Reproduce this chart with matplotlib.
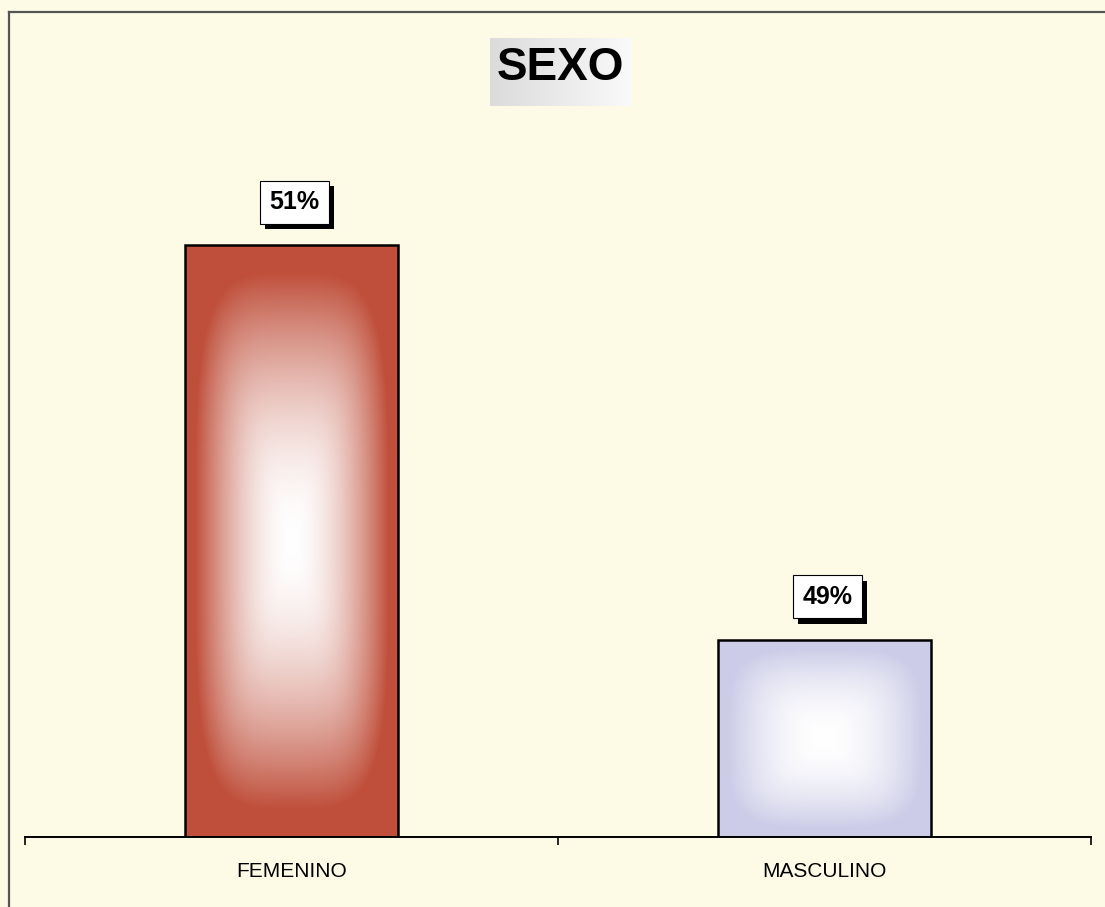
import matplotlib.pyplot as plt
import matplotlib.patheffects as pe
import numpy as np

categories = ['FEMENINO', 'MASCULINO']
values = [51, 49]
labels = ['51%', '49%']
edge_colors = [(0.75, 0.31, 0.23), (0.80, 0.80, 0.91)]

W, H = 1105, 907
fig = plt.figure(figsize=(W / 100, H / 100), dpi=100)
fig.patch.set_facecolor('#fdfbe6')

# outer frame (only top and left visible)
fig.add_artist(plt.Line2D([9 / W, 9 / W], [0, 1 - 12 / H], color='#555555', lw=1.6))
fig.add_artist(plt.Line2D([9 / W, 1], [1 - 12 / H, 1 - 12 / H], color='#555555', lw=1.6))

ax_left, ax_right = 25 / W, 1091 / W
ax_bottom, ax_top = 70 / H, 1 - 12 / H
ax = fig.add_axes([ax_left, ax_bottom, ax_right - ax_left, ax_top - ax_bottom])
ax.set_facecolor('none')

px_per_unit = 197.3
ymin = 48
ymax = ymin + (837 - 12) / px_per_unit
ax.set_ylim(ymin, ymax)
ax.set_xlim(-0.5, 1.5)

x = np.arange(len(categories))
bar_w = 0.40
bars = ax.bar(x, np.array(values) - ymin, bottom=ymin, width=bar_w,
              color='none', edgecolor='black', linewidth=1.8, zorder=3)

# soft rectangular gradient fill: white centre to edge colour
n = 300
u = np.linspace(-1, 1, n)
U, V = np.meshgrid(u, u)
d = (np.abs(U) ** 4 + np.abs(V) ** 4) ** 0.25
t = np.clip(d * 1.1, 0, 1) ** 1.8
for b, col in zip(bars, edge_colors):
    col = np.array(col)
    img = (1 - t[..., None]) * np.array([1.0, 1.0, 1.0]) + t[..., None] * col
    x0 = b.get_x()
    y0 = b.get_y()
    im = ax.imshow(img, extent=[x0, x0 + b.get_width(), y0, y0 + b.get_height()],
                   aspect='auto', zorder=2, interpolation='bilinear')
    im.set_clip_path(b)

# value labels with shadowed boxes
for xi, v, lab in zip(x, values, labels):
    txt = ax.annotate(lab, (xi, v), xytext=(2, 31), textcoords='offset points',
                      ha='center', va='center', fontsize=18, fontweight='bold',
                      family='Liberation Sans', zorder=5,
                      bbox=dict(boxstyle='square,pad=0.38', fc='white', ec='black', lw=0.8))
    txt.get_bbox_patch().set_path_effects([
        pe.SimplePatchShadow(offset=(4, -4), shadow_rgbFace='black', alpha=1.0),
        pe.Normal()])

# axis styling
for s in ['left', 'right', 'top']:
    ax.spines[s].set_visible(False)
ax.spines['bottom'].set_linewidth(1.4)
ax.set_yticks([])
ax.set_xticks(x)
ax.set_xticklabels(categories, fontsize=15, family='Liberation Sans')
ax.set_xticks([-0.5, 0.5, 1.5], minor=True)
ax.tick_params(axis='x', which='major', length=0, pad=18)
ax.tick_params(axis='x', which='minor', length=6, width=1.2, direction='out')

# title with grey gradient box
tax = fig.add_axes([490 / W, 1 - 106 / H, 142 / W, 68 / H])
grad = np.linspace(0.86, 0.98, 100)[None, :]
tax.imshow(np.dstack([grad, grad, grad]), aspect='auto', extent=[0, 1, 0, 1])
tax.axis('off')
fig.text(560 / W, 1 - 68 / H, 'SEXO', ha='center', va='center',
         fontsize=33, fontweight='bold', family='Liberation Sans')

fig.savefig('out.png', dpi=100, facecolor=fig.get_facecolor())
